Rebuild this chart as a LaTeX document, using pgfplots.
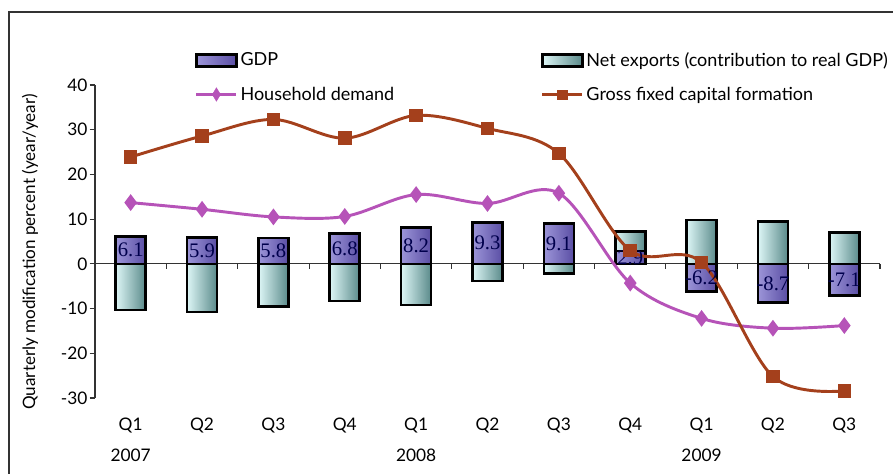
\documentclass[border=0pt]{standalone}
\usepackage{pgfplots}
\usepackage{pgfplotstable}
\pgfplotsset{compat=1.18}
\usepackage{fontspec}
\setmainfont{Lato}
\newfontfamily\serifnum{Liberation Serif}
\definecolor{gdpL}{HTML}{9C95D8}
\definecolor{gdpR}{HTML}{5A4EA4}
\definecolor{nxL}{HTML}{DDF6F6}
\definecolor{nxR}{HTML}{5A8A8A}
\definecolor{hh}{HTML}{B653B8}
\definecolor{gf}{HTML}{A4401C}
\pgfplotstableread{
x nx gdp
0 -10.3 6.1
1 -10.8 5.9
2 -9.5 5.8
3 -8.3 6.8
4 -9.2 8.2
5 -3.8 9.3
6 -2.2 9.1
7 7.3 2.9
8 9.8 -6.2
9 9.4 -8.7
10 7.0 -7.1
}\bars
\begin{document}
\begin{tikzpicture}
\path[use as bounding box] (0,0) rectangle (669.75pt,355.5pt);
\draw[line width=1pt, black!80] (6.75pt,0) -- (6.75pt,346.5pt) -- (669.75pt,346.5pt);
\node[rotate=90, font=\fontsize{12.8}{13}\selectfont] at (22.5pt,166.5pt) {Quarterly modification percent (year/year)};
\begin{axis}[at={(71.25pt,57pt)}, anchor=south west, scale only axis,
  width=588.75pt, height=234.75pt,
  xmin=-0.5, xmax=10.5, ymin=-30, ymax=40,
  axis y line=left, axis x line*=bottom,
  x axis line style={draw=none},
  y axis line style={-, line width=0.8pt, black!80},
  ytick={-30,-20,...,40}, tick align=outside, major tick length=4pt,
  ytick style={line width=0.8pt, black!80},
  xtick={0,...,10}, xtick style={draw=none},
  xticklabels={{Q1\\2007},Q2,Q3,Q4,{Q1\\2008},Q2,Q3,Q4,{Q1\\2009},Q2,Q3},
  xticklabel style={align=center, font=\fontsize{13}{23}\selectfont, yshift=-7.5pt},
  yticklabel style={font=\fontsize{13}{14}\selectfont, inner sep=1.5pt},
  /pgf/number format/assume math mode=true,
  clip=false,
  legend style={draw=none, fill=none, at={(rel axis cs:0.127,1.114)}, anchor=north west,
    inner sep=0pt, font=\fontsize{13.5}{14}\selectfont, row sep=10pt,
    /tikz/every even column/.append style={column sep=108pt}},
  legend columns=2, legend cell align=left,
]
\draw[line width=0.8pt, black!80] (axis cs:-0.5,0) -- (axis cs:10.5,0);
\pgfplotsinvokeforeach{0.5,1.5,2.5,3.5,4.5,5.5,6.5,7.5,8.5,9.5,10.5}{
  \draw[line width=0.8pt, black!80] (axis cs:#1,0) -- ([yshift=-4pt]axis cs:#1,0);
}
\pgfplotsinvokeforeach{0,...,10}{
\addplot[ybar, bar width=0.42, bar shift=0pt, draw=black, line width=2pt,
  left color=nxL, right color=nxR, forget plot, restrict x to domain=#1:#1]
  table[x=x, y=nx] {\bars};
\addplot[ybar, bar width=0.42, bar shift=0pt, draw=black, line width=2pt,
  left color=gdpL, right color=gdpR, forget plot, restrict x to domain=#1:#1]
  table[x=x, y=gdp] {\bars};
}
\addplot[draw=none, mark=none, forget plot, nodes near coords, point meta=explicit symbolic,
  every node near coord/.style={anchor=center, inner sep=0pt, text=black!70!blue,
    font=\serifnum\fontsize{15.5}{15.5}\selectfont}] table[meta=lab] {
x y lab
0 3.05 6.1
1 2.95 5.9
2 2.9 5.8
3 3.4 6.8
4 4.1 8.2
5 4.65 9.3
6 4.55 9.1
7 1.45 2.9
8 -3.1 -6.2
9 -4.35 -8.7
10 -3.55 -7.1
};
\addplot[hh, line width=2.2pt, smooth, tension=0.55, mark=diamond*, mark size=4.5pt, forget plot] coordinates {
  (0,13.7) (1,12.2) (2,10.5) (3,10.6) (4,15.5) (5,13.5) (6,15.8) (7,-4.3) (8,-12.2) (9,-14.4) (10,-13.8)};
\addplot[gf, line width=2.2pt, smooth, tension=0.55, mark=square*, mark size=4pt, forget plot] coordinates {
  (0,23.9) (1,28.6) (2,32.3) (3,28.1) (4,33.2) (5,30.3) (6,24.7) (7,3.0) (8,0.3) (9,-25.2) (10,-28.4)};
\addlegendimage{legend image code/.code={\draw[black, line width=2pt, left color=gdpL, right color=gdpR] (0pt,-4.5pt) rectangle (30pt,4.5pt);}}
\addlegendentry{GDP}
\addlegendimage{legend image code/.code={\draw[black, line width=2pt, left color=nxL, right color=nxR] (0pt,-4.5pt) rectangle (30pt,4.5pt);}}
\addlegendentry{Net exports (contribution to real GDP)}
\addlegendimage{legend image code/.code={\draw[hh, line width=2.2pt] (0pt,0pt) -- (30pt,0pt); \fill[hh] (15pt,5pt) -- (18pt,0pt) -- (15pt,-5pt) -- (12pt,0pt) -- cycle;}}
\addlegendentry{Household demand}
\addlegendimage{legend image code/.code={\draw[gf, line width=2.2pt] (0pt,0pt) -- (30pt,0pt); \fill[gf] (11.5pt,-3.5pt) rectangle (18.5pt,3.5pt);}}
\addlegendentry{Gross fixed capital formation}
\end{axis}
\end{tikzpicture}
\end{document}
